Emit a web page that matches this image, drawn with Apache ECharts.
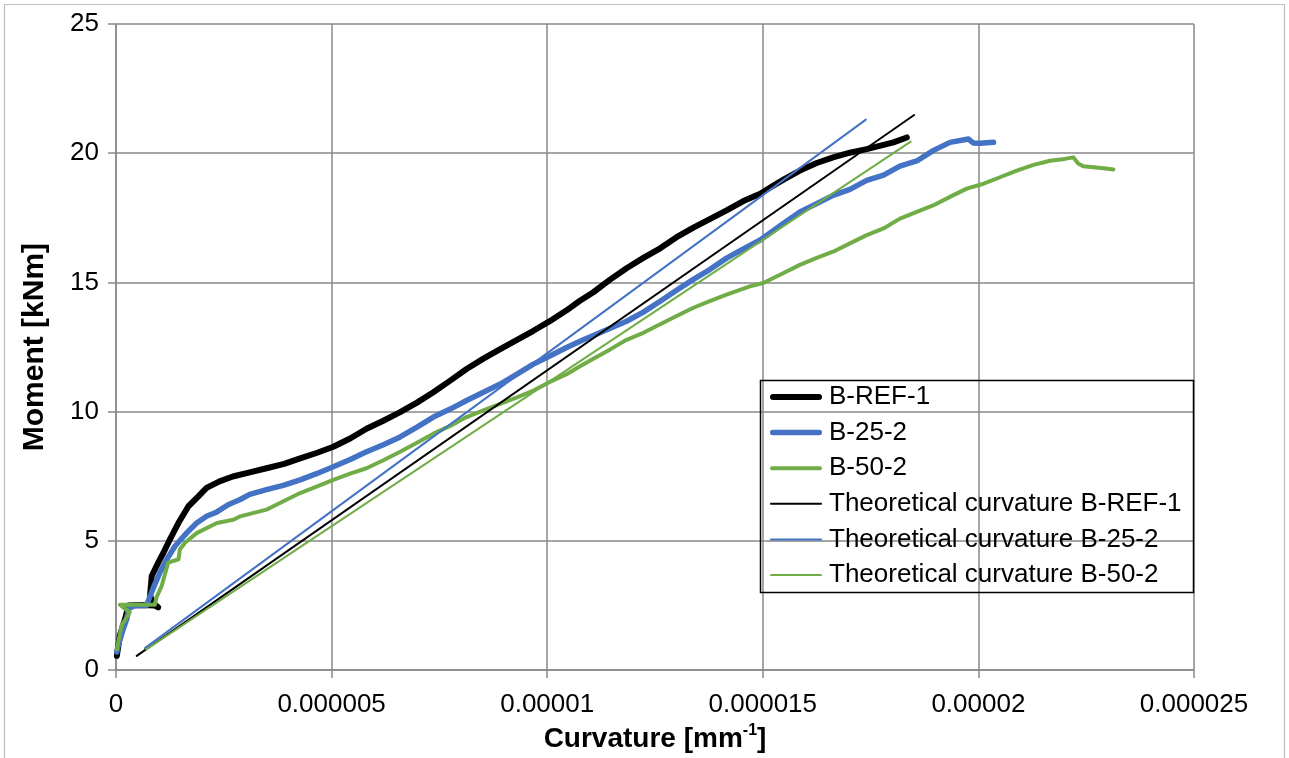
<!DOCTYPE html>
<html>
<head>
<meta charset="utf-8">
<title>Moment–curvature</title>
<script src="https://cdn.jsdelivr.net/npm/echarts@6/dist/echarts.min.js"></script>
<style>
  html, body { margin: 0; padding: 0; background: #ffffff; }
  #chart { width: 1289px; height: 758px; }
</style>
</head>
<body>
<div id="chart"></div>
<script>
// Measured moment–curvature curves: [curvature (1/mm), moment (kNm)]
const bRef1 = [
  [0.02e-6,0.55],[0.09e-6,1.34],[0.21e-6,1.98],[0.29e-6,2.50],[0.60e-6,2.52],[0.90e-6,2.50],
  [0.98e-6,2.43],[0.85e-6,2.60],[0.79e-6,2.90],[0.83e-6,3.65],[0.98e-6,4.16],[1.10e-6,4.54],
  [1.25e-6,5.06],[1.45e-6,5.70],[1.68e-6,6.34],[1.91e-6,6.72],[2.10e-6,7.05],[2.40e-6,7.30],
  [2.71e-6,7.49],[3.10e-6,7.65],[3.49e-6,7.81],[3.90e-6,7.98],[4.27e-6,8.19],[4.65e-6,8.40],
  [5.04e-6,8.64],[5.43e-6,8.96],[5.81e-6,9.34],[6.20e-6,9.65],[6.59e-6,9.98],[6.98e-6,10.35],
  [7.36e-6,10.75],[7.75e-6,11.20],[8.13e-6,11.65],[8.52e-6,12.05],[8.91e-6,12.42],[9.30e-6,12.78],
  [9.68e-6,13.13],[10.06e-6,13.50],[10.45e-6,13.92],[10.75e-6,14.28],[11.07e-6,14.62],[11.45e-6,15.10],
  [11.84e-6,15.55],[12.23e-6,15.95],[12.62e-6,16.32],[13.00e-6,16.75],[13.39e-6,17.12],[13.77e-6,17.45],
  [14.16e-6,17.79],[14.55e-6,18.15],[14.94e-6,18.43],[15.20e-6,18.70],[15.50e-6,19.00],[15.86e-6,19.33],
  [16.25e-6,19.62],[16.63e-6,19.84],[17.02e-6,20.02],[17.41e-6,20.16],[18.03e-6,20.42],[18.34e-6,20.61]
];
const b25_2 = [
  [0.02e-6,0.70],[0.05e-6,0.95],[0.15e-6,1.50],[0.25e-6,1.98],[0.30e-6,2.40],[0.45e-6,2.50],
  [0.71e-6,2.50],[0.80e-6,2.90],[0.87e-6,3.20],[1.02e-6,3.78],[1.18e-6,4.29],[1.37e-6,4.80],
  [1.64e-6,5.31],[1.87e-6,5.69],[2.10e-6,5.95],[2.34e-6,6.12],[2.60e-6,6.40],[2.88e-6,6.60],
  [3.10e-6,6.80],[3.49e-6,6.98],[3.88e-6,7.15],[4.27e-6,7.36],[4.65e-6,7.60],[5.04e-6,7.87],
  [5.43e-6,8.15],[5.81e-6,8.45],[6.20e-6,8.72],[6.59e-6,9.02],[6.98e-6,9.40],[7.36e-6,9.79],
  [7.75e-6,10.10],[8.13e-6,10.43],[8.52e-6,10.75],[8.91e-6,11.07],[9.30e-6,11.45],[9.68e-6,11.84],
  [10.06e-6,12.15],[10.45e-6,12.48],[10.80e-6,12.75],[11.22e-6,13.05],[11.84e-6,13.50],[12.23e-6,13.85],
  [12.62e-6,14.27],[13.00e-6,14.70],[13.39e-6,15.12],[13.77e-6,15.50],[14.16e-6,15.94],[14.55e-6,16.30],
  [14.94e-6,16.64],[15.20e-6,16.95],[15.45e-6,17.25],[15.86e-6,17.73],[16.25e-6,18.05],[16.63e-6,18.37],
  [17.02e-6,18.60],[17.41e-6,18.95],[17.80e-6,19.15],[18.18e-6,19.50],[18.57e-6,19.70],[18.95e-6,20.10],
  [19.34e-6,20.42],[19.77e-6,20.55],[19.88e-6,20.40],[20.04e-6,20.39],[20.35e-6,20.42]
];
const b50_2 = [
  [0.02e-6,0.80],[0.13e-6,1.73],[0.32e-6,2.24],[0.15e-6,2.45],[0.09e-6,2.53],[0.50e-6,2.53],
  [0.90e-6,2.53],[0.94e-6,2.82],[1.06e-6,3.26],[1.21e-6,4.16],[1.45e-6,4.29],[1.48e-6,4.67],
  [1.60e-6,4.93],[1.87e-6,5.30],[2.34e-6,5.69],[2.72e-6,5.82],[2.88e-6,5.95],[3.49e-6,6.21],
  [3.65e-6,6.34],[4.27e-6,6.85],[4.65e-6,7.10],[5.04e-6,7.36],[5.43e-6,7.60],[5.81e-6,7.81],
  [6.20e-6,8.12],[6.59e-6,8.45],[6.98e-6,8.80],[7.36e-6,9.15],[7.75e-6,9.45],[8.13e-6,9.79],
  [8.52e-6,10.05],[8.91e-6,10.30],[9.30e-6,10.55],[9.68e-6,10.82],[10.06e-6,11.15],[10.45e-6,11.45],
  [10.75e-6,11.75],[11.07e-6,12.05],[11.45e-6,12.40],[11.84e-6,12.78],[12.23e-6,13.05],[12.62e-6,13.38],
  [13.00e-6,13.70],[13.39e-6,14.02],[13.77e-6,14.28],[14.16e-6,14.53],[14.70e-6,14.85],[15.01e-6,14.98],
  [15.40e-6,15.30],[15.86e-6,15.68],[16.25e-6,15.95],[16.63e-6,16.19],[17.02e-6,16.51],[17.41e-6,16.83],
  [17.80e-6,17.09],[18.18e-6,17.47],[18.57e-6,17.73],[18.95e-6,17.98],[19.34e-6,18.31],[19.73e-6,18.63],
  [20.12e-6,18.82],[20.50e-6,19.07],[20.89e-6,19.33],[21.28e-6,19.55],[21.66e-6,19.71],[22.00e-6,19.78],
  [22.20e-6,19.84],[22.32e-6,19.59],[22.43e-6,19.50],[22.90e-6,19.42],[23.13e-6,19.37]
];

// Theoretical (linear) curvature predictions
const theoRef1 = [[0.48e-6,0.55],[18.51e-6,21.48]];
const theo25_2 = [[0.67e-6,0.85],[17.39e-6,21.30]];
const theo50_2 = [[0.70e-6,0.80],[18.43e-6,20.45]];

const seriesNames = [
  'B-REF-1', 'B-25-2', 'B-50-2',
  'Theoretical curvature B-REF-1', 'Theoretical curvature B-25-2', 'Theoretical curvature B-50-2'
];

const xTickLabels = ['0', '0.000005', '0.00001', '0.000015', '0.00002', '0.000025'];
const yTickLabels = ['0', '5', '10', '15', '20', '25'];

const BLACK = '#000000';
const BLUE = '#4472C4';
const GREEN = '#70AD47';
const GRID = '#898989';
const FONT = '"Liberation Sans", Arial, sans-serif';

const lineWidths = [6, 5.5, 4, 2, 2, 2];
const lineColors = [BLACK, BLUE, GREEN, BLACK, BLUE, GREEN];

// Legend key: a horizontal bar with rounded ends, as thick as the series line
function keyIcon(w) {
  const r = w / 2;
  return 'path://M' + r + ',0H' + (52 - r) + 'A' + r + ',' + r + ',0,0,1,' + (52 - r) + ',' + w +
    'H' + r + 'A' + r + ',' + r + ',0,0,1,' + r + ',0Z';
}

function lineSeries(i, data) {
  return {
    name: seriesNames[i],
    type: 'line',
    data: data,
    showSymbol: false,
    symbol: 'none',
    smooth: false,
    animation: false,
    color: lineColors[i],
    itemStyle: { color: lineColors[i] },
    lineStyle: { color: lineColors[i], width: lineWidths[i], cap: 'round', join: 'round' }
  };
}

const chart = echarts.init(document.getElementById('chart'), null, { renderer: 'canvas' });

chart.setOption({
  backgroundColor: '#ffffff',
  animation: false,
  textStyle: { fontFamily: FONT },
  grid: { left: 116, right: 95, top: 24, bottom: 83, containLabel: false },
  xAxis: {
    type: 'value',
    min: 0,
    max: 0.000025,
    interval: 0.000005,
    name: '{t|Curvature [mm}{s|-1}{t|]}',
    nameLocation: 'middle',
    nameGap: 50,
    nameTextStyle: {
      rich: {
        t: { fontFamily: FONT, fontSize: 28, fontWeight: 'bold', color: '#000', verticalAlign: 'bottom' },
        s: { fontFamily: FONT, fontSize: 16, fontWeight: 'bold', color: '#000', verticalAlign: 'top', padding: [0, 0, 14, 0] }
      }
    },
    axisLine: { show: true, lineStyle: { color: GRID, width: 1.5 } },
    axisTick: { show: true, inside: false, length: 8, lineStyle: { color: GRID, width: 1.5 } },
    axisLabel: {
      margin: 22,
      fontSize: 26,
      fontFamily: FONT,
      color: '#000',
      formatter: function (v) { return xTickLabels[Math.round(v / 0.000005)]; }
    },
    splitLine: { show: true, lineStyle: { color: GRID, width: 1.5 } }
  },
  yAxis: {
    type: 'value',
    min: 0,
    max: 25,
    interval: 5,
    name: 'Moment [kNm]',
    nameLocation: 'middle',
    nameGap: 66,
    nameRotate: 90,
    nameTextStyle: { fontFamily: FONT, fontSize: 30, fontWeight: 'bold', color: '#000' },
    axisLine: { show: true, lineStyle: { color: GRID, width: 1.5 } },
    axisTick: { show: true, inside: false, length: 8, lineStyle: { color: GRID, width: 1.5 } },
    axisLabel: {
      margin: 17,
      fontSize: 26,
      fontFamily: FONT,
      color: '#000',
      formatter: function (v) { return yTickLabels[Math.round(v / 5)]; }
    },
    splitLine: { show: true, lineStyle: { color: GRID, width: 1.5 } }
  },
  legend: {
    show: true,
    orient: 'vertical',
    left: 770,
    top: 384,
    padding: 0,
    itemWidth: 52,
    itemHeight: 14,
    itemGap: 9.6,
    symbolKeepAspect: true,
    itemStyle: { borderWidth: 0 },
    data: seriesNames.map(function (n, i) {
      return { name: n, icon: keyIcon(lineWidths[i]), itemStyle: { color: lineColors[i], borderWidth: 0 } };
    }),
    textStyle: { fontFamily: FONT, fontSize: 26, lineHeight: 26, color: '#000', padding: [0, 0, 0, 2] }
  },
  graphic: [
    {
      type: 'rect',
      z: 100,
      silent: true,
      shape: { x: 760.5, y: 380.5, width: 433, height: 212 },
      style: { fill: 'none', stroke: '#000', lineWidth: 1.5 }
    },
    {
      type: 'rect',
      z: -10,
      silent: true,
      shape: { x: 4.5, y: 4.5, width: 1280, height: 760 },
      style: { fill: 'none', stroke: '#bfbfbf', lineWidth: 1.2 }
    }
  ],
  series: [
    lineSeries(0, bRef1),
    lineSeries(1, b25_2),
    lineSeries(2, b50_2),
    lineSeries(3, theoRef1),
    lineSeries(4, theo25_2),
    lineSeries(5, theo50_2)
  ]
});
</script>
</body>
</html>
